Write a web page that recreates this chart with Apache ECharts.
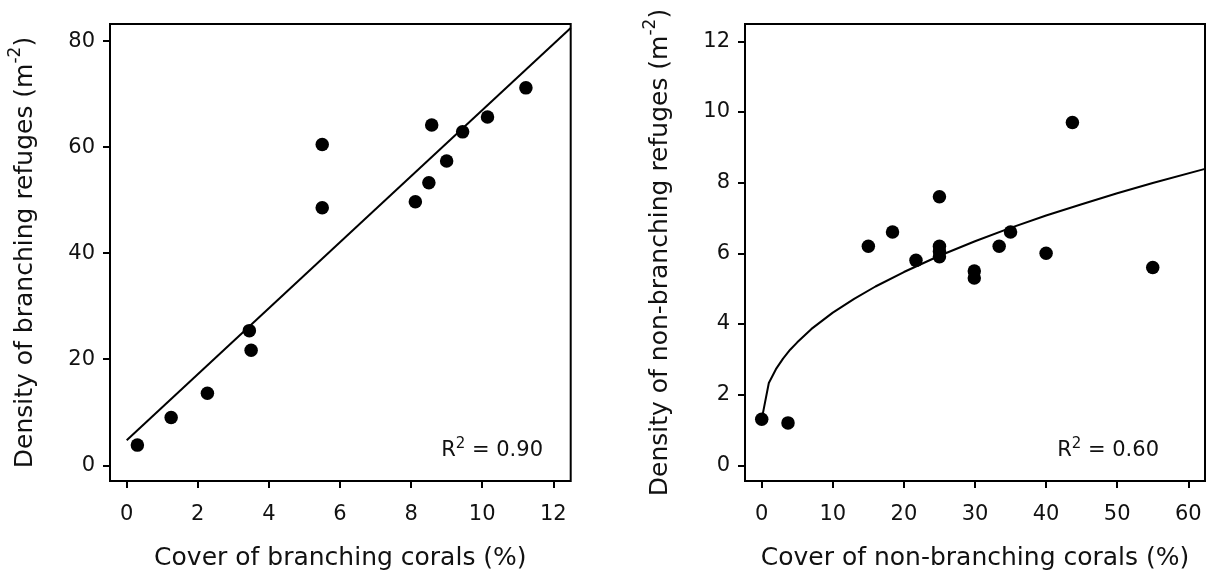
<!DOCTYPE html>
<html><head><meta charset="utf-8">
<script src="https://cdn.jsdelivr.net/npm/echarts@6/dist/echarts.min.js"></script>
<style>html,body{margin:0;padding:0;background:#fff}#c{width:1210px;height:576px}</style>
</head><body><div id="c"></div>
<script>
// ---- Left panel: branching corals ----
const branchCover   = [0.3, 1.25, 2.27, 3.45, 3.5, 5.5, 5.5, 8.12, 8.5, 8.58, 9.0, 9.45, 10.15, 11.23];
const branchDensity = [3.8, 9.0, 13.6, 25.4, 21.7, 60.5, 48.6, 49.7, 53.3, 64.2, 57.4, 62.9, 65.7, 71.2];
const branchFitX = [0, 12.49];
const branchFitY = [4.7, 82.5];
const branchXTicks = [0, 2, 4, 6, 8, 10, 12];
const branchYTicks = [0, 20, 40, 60, 80];
const branchR2 = '0.90';

// ---- Right panel: non-branching corals ----
const nonBranchCover   = [0, 3.7, 15, 18.4, 21.7, 25, 25, 25, 25, 29.9, 29.9, 33.4, 35, 40, 43.7, 55];
const nonBranchDensity = [1.3, 1.2, 6.2, 6.6, 5.8, 7.6, 6.2, 6.05, 5.9, 5.5, 5.3, 6.2, 6.6, 6.0, 9.7, 5.6];
const nonBranchFitX = [0, 1, 2, 3, 4, 5, 7, 10, 13, 16, 20, 25, 30, 35, 40, 45, 50, 55, 62.35];
const nonBranchFitY = [1.3, 2.33, 2.72, 3.02, 3.27, 3.48, 3.86, 4.32, 4.71, 5.06, 5.47, 5.93, 6.34, 6.72, 7.07, 7.39, 7.70, 7.99, 8.39];
const nonBranchXTicks = [0, 10, 20, 30, 40, 50, 60];
const nonBranchYTicks = [0, 2, 4, 6, 8, 10, 12];
const nonBranchR2 = '0.60';

const FONT = 'DejaVu Sans';
const TXT = '#111';

function pairs(xs, ys) { return xs.map((x, i) => [x, ys[i]]); }

function xAxisCfg(grid, min, max, ticks, name) {
  return {
    type: 'value', gridIndex: grid, min: min, max: max,
    axisLine: { show: false, onZero: false },
    axisTick: { show: true, length: 7, lineStyle: { color: '#000', width: 2 }, customValues: ticks },
    axisLabel: { customValues: ticks, margin: 23, fontSize: 21, color: TXT, fontFamily: FONT },
    splitLine: { show: false },
    name: name, nameLocation: 'middle', nameGap: 65,
    nameTextStyle: { fontSize: 25, color: TXT, fontFamily: FONT }
  };
}
function yAxisCfg(grid, min, max, ticks, name) {
  return {
    type: 'value', gridIndex: grid, min: min, max: max,
    axisLine: { show: false, onZero: false },
    axisTick: { show: true, length: 7, lineStyle: { color: '#000', width: 2 }, customValues: ticks },
    axisLabel: { customValues: ticks, margin: 15, fontSize: 21, color: TXT, fontFamily: FONT },
    splitLine: { show: false },
    name: name, nameLocation: 'middle', nameGap: 72,
    nameTextStyle: {
      fontSize: 25, color: TXT, fontFamily: FONT,
      rich: { sup: { fontSize: 17, color: TXT, fontFamily: FONT, verticalAlign: 'bottom', lineHeight: 17, padding: [0, 0, 14, 0] } }
    }
  };
}

function r2Text(right, y, val) {
  return {
    type: 'text', x: right, y: y,
    style: {
      text: '{r|R}{s|2}{r| = ' + val + '}',
      align: 'right', verticalAlign: 'middle',
      rich: {
        r: { fontSize: 21, fontFamily: FONT, fill: TXT, color: TXT },
        s: { fontSize: 15, fontFamily: FONT, fill: TXT, color: TXT, verticalAlign: 'bottom', lineHeight: 15, padding: [0, 0, 10, 0] }
      }
    }
  };
}

const chart = echarts.init(document.getElementById('c'), null, { renderer: 'canvas' });
chart.setOption({
  animation: false,
  backgroundColor: '#fff',
  grid: [
    { left: 110, top: 24, width: 460.7, height: 459.5, show: true, borderColor: '#000', borderWidth: 2, backgroundColor: 'transparent' },
    { left: 745, top: 24, width: 460, height: 459.5, show: true, borderColor: '#000', borderWidth: 2, backgroundColor: 'transparent' }
  ],
  xAxis: [
    xAxisCfg(0, -0.47, 12.49, branchXTicks, 'Cover of branching corals (%)'),
    xAxisCfg(1, -2.35, 62.35, nonBranchXTicks, 'Cover of non-branching corals (%)')
  ],
  yAxis: [
    yAxisCfg(0, -2.97, 83.25, branchYTicks, 'Density of branching refuges (m{sup|-2})'),
    yAxisCfg(1, -0.445, 12.49, nonBranchYTicks, 'Density of non-branching refuges (m{sup|-2})')
  ],
  series: [
    { type: 'line', xAxisIndex: 0, yAxisIndex: 0, data: pairs(branchFitX, branchFitY), showSymbol: false, symbol: 'none',
      lineStyle: { color: '#000', width: 2 }, clip: true, z: 2 },
    { type: 'scatter', xAxisIndex: 0, yAxisIndex: 0, data: pairs(branchCover, branchDensity), symbolSize: 13.5,
      itemStyle: { color: '#000', opacity: 1 }, z: 3 },
    { type: 'line', xAxisIndex: 1, yAxisIndex: 1, data: pairs(nonBranchFitX, nonBranchFitY), showSymbol: false, symbol: 'none',
      lineStyle: { color: '#000', width: 2 }, clip: true, z: 2 },
    { type: 'scatter', xAxisIndex: 1, yAxisIndex: 1, data: pairs(nonBranchCover, nonBranchDensity), symbolSize: 13.5,
      itemStyle: { color: '#000', opacity: 1 }, z: 3 }
  ],
  graphic: [
    r2Text(543, 451, branchR2),
    r2Text(1159, 451, nonBranchR2)
  ]
});
</script>
</body></html>
